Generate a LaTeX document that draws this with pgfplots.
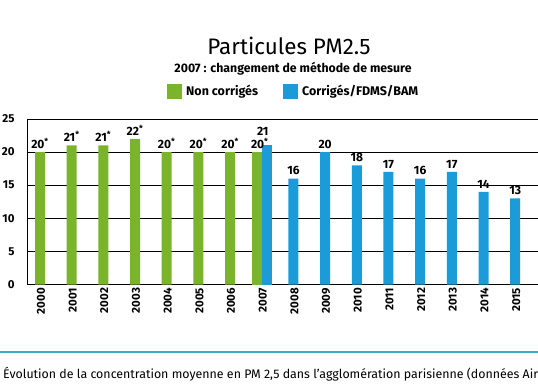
\documentclass[border=0pt]{standalone}
\usepackage{pgfplots}
\pgfplotsset{compat=1.18}
\usepackage{fontspec}
\setmainfont{Fira Sans}
\definecolor{vert}{HTML}{79B42B}
\definecolor{bleu}{HTML}{1B9BD7}
\definecolor{trait}{HTML}{3FA9C9}
\begin{document}
\begin{tikzpicture}
\begin{axis}[
  at={(0,0)}, anchor=south west,
  scale only axis, width=510bp, height=165.5bp,
  xmin=-0.379, xmax=15.72, ymin=0, ymax=25,
  axis lines*=left,
  axis line style={black, line width=1bp},
  ymajorgrids, grid style={black, line width=0.8bp},
  ytick={0,5,10,15,20,25},
  xtick={0,...,15},
  xticklabels={2000,2001,2002,2003,2004,2005,2006,2007,2008,2009,2010,2011,2012,2013,2014,2015},
  /pgf/number format/assume math mode=true,
  major tick length=0pt,
  tick label style={font=\bfseries\fontsize{11.5bp}{13bp}\selectfont},
  x tick label style={rotate=90, anchor=east, xshift=0bp, yshift=-1bp},
  yticklabel style={xshift=-10bp},
  /pgf/bar width=10bp,
  every node near coord/.append style={font=\bfseries\fontsize{12bp}{14bp}\selectfont, yshift=0bp},
  clip=false,
]
\addplot[ybar, bar shift=0pt, fill=vert, draw=none, nodes near coords, point meta=explicit symbolic]
  coordinates {(0,20)[20\textsuperscript{*}] (1,21)[21\textsuperscript{*}] (2,21)[21\textsuperscript{*}] (3,22)[22\textsuperscript{*}] (4,20)[20\textsuperscript{*}] (5,20)[20\textsuperscript{*}] (6,20)[20\textsuperscript{*}]};
\addplot[ybar, bar shift=-5bp, fill=vert, draw=none, nodes near coords, point meta=explicit symbolic,
  every node near coord/.append style={xshift=-2bp}]
  coordinates {(7,20)[20\textsuperscript{*}]};
\addplot[ybar, bar shift=5bp, fill=bleu, draw=none, nodes near coords, point meta=explicit symbolic,
  every node near coord/.append style={yshift=6bp, xshift=1bp}]
  coordinates {(7,21)[21]};
\addplot[ybar, bar shift=0pt, fill=bleu, draw=none, nodes near coords, point meta=y]
  coordinates {(8,16) (9,20) (10,18) (11,17) (12,16) (13,17) (14,14) (15,13)};
\end{axis}
% title block
\node[font=\fontsize{22.4bp}{26bp}\selectfont] at (261bp,238.5bp) {Particules PM2.5};
\node[font=\bfseries\fontsize{12.3bp}{14bp}\selectfont] at (265bp,215.5bp) {2007 : changement de méthode de mesure};
\fill[vert] (139bp,185bp) rectangle (154bp,200bp);
\node[anchor=west, inner sep=0pt, font=\bfseries\fontsize{12.5bp}{14bp}\selectfont] at (158bp,192.5bp) {Non corrigés};
\fill[bleu] (255bp,185bp) rectangle (270bp,200bp);
\node[anchor=west, inner sep=0pt, font=\bfseries\fontsize{12.5bp}{14bp}\selectfont] at (274bp,192.5bp) {Corrigés/FDMS/BAM};
% caption
\draw[trait, line width=1.3bp] (-28bp,-67.5bp) -- (510bp,-67.5bp);
\node[anchor=base west, inner sep=0pt, font=\fontsize{12.4bp}{14bp}\selectfont] at (-25bp,-93.5bp) {Évolution de la concentration moyenne en PM 2,5 dans l’agglomération parisienne (données Airparif)};
\pgfresetboundingbox
\path[use as bounding box] (-28bp,-99.5bp) rectangle (510bp,284.5bp);
\end{tikzpicture}
\end{document}
